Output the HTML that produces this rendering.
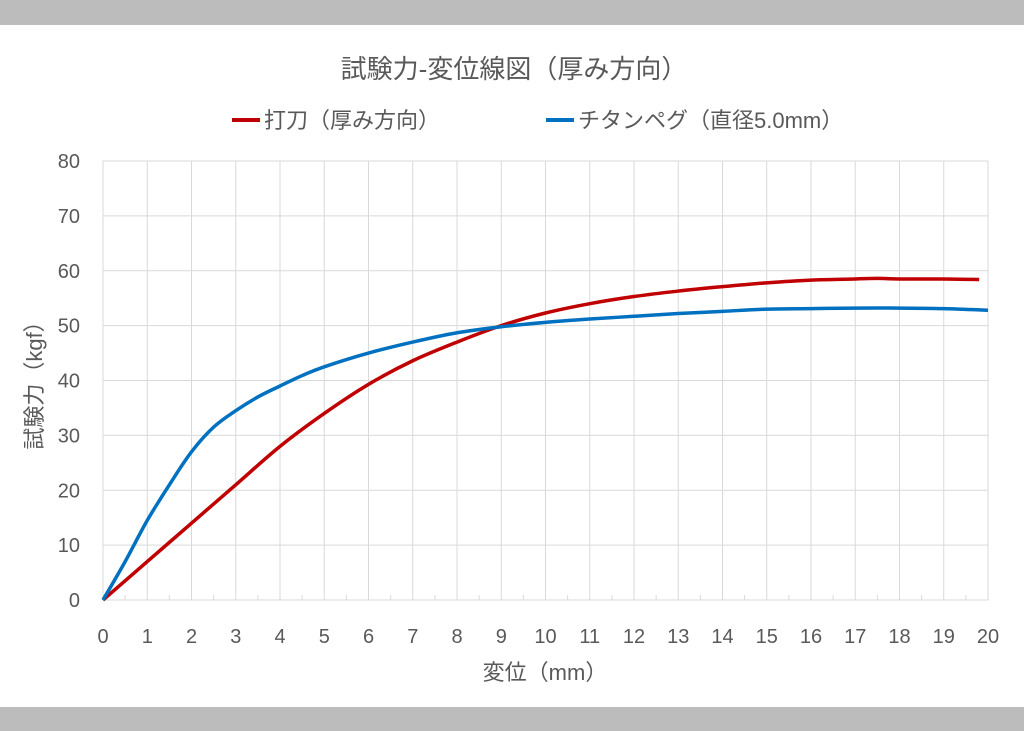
<!DOCTYPE html>
<html><head><meta charset="utf-8"><style>
body{margin:0;background:#fff;}
svg{display:block;font-family:"Liberation Sans","Noto Sans CJK JP",sans-serif;}
</style></head><body>
<svg id="c" width="1024" height="731" viewBox="0 0 1024 731">
<rect x="0" y="0" width="1024" height="25" fill="#bcbcbc"/>
<rect x="0" y="707" width="1024" height="24" fill="#bcbcbc"/>
<text x="514" y="78" text-anchor="middle" font-size="26" fill="#595959">試験力-変位線図（厚み方向）</text>
<g>
<g><line x1="232" y1="120" x2="260" y2="120" stroke="#c00000" stroke-width="4"/><text x="264" y="128" font-size="22" fill="#595959">打刀（厚み方向）</text></g>
<g><line x1="546" y1="120" x2="574" y2="120" stroke="#0070c0" stroke-width="4"/><text x="578" y="128" font-size="22" fill="#595959">チタンペグ（直径5.0mm）</text></g>
</g>
<g id="grid"></g><g id="axes"></g><g id="series"></g>
<text x="545" y="680" text-anchor="middle" font-size="22" fill="#595959">変位（mm）</text>
<text transform="translate(42,380) rotate(-90)" text-anchor="middle" font-size="22" fill="#595959">試験力（kgf）</text>
</svg>
<script>
const xTicks=[0,1,2,3,4,5,6,7,8,9,10,11,12,13,14,15,16,17,18,19,20];
const yTicks=[0,10,20,30,40,50,60,70,80];
const redX=[0,1,2,3,4,5,6,7,8,9,10,11,12,13,14,15,16,17,17.5,18,19,19.8];
const redY=[0,7,14,21,28,34,39.3,43.6,47,50,52.3,54,55.3,56.3,57.1,57.8,58.3,58.5,58.6,58.5,58.5,58.4];
const blueX=[0,0.5,1,1.5,2,2.5,3,3.5,4,4.5,5,6,7,8,9,10,11,12,13,14,15,16,17,18,19,20];
const blueY=[0,7,14.5,21,27,31.5,34.5,37,39,40.9,42.5,45,47,48.7,49.8,50.6,51.2,51.7,52.2,52.6,53,53.1,53.2,53.2,53.1,52.8];
const NS="http://www.w3.org/2000/svg";
const X0=103,X1=988,Y0=600,Y1=161;
const sx=v=>X0+(X1-X0)*v/20, sy=v=>Y0-(Y0-Y1)*v/80;
function mk(t,a,p){const e=document.createElementNS(NS,t);for(const k in a)e.setAttribute(k,a[k]);p.appendChild(e);return e;}
const grid=document.getElementById('grid'),axes=document.getElementById('axes'),ser=document.getElementById('series');
xTicks.forEach(v=>{
 const l=mk('line',{x1:sx(v),x2:sx(v),y1:Y1,y2:Y0,stroke:'#d9d9d9','stroke-width':1},grid);
 
 
 const t=mk('text',{x:sx(v),y:643,'text-anchor':'middle','font-size':20,fill:'#595959'},axes);t.textContent=v;
 
 
 if(v<20){const m=mk('line',{x1:sx(v+0.5),x2:sx(v+0.5),y1:Y0-5,y2:Y0,stroke:'#d9d9d9'},grid);
 
 }
});
yTicks.forEach(v=>{
 const l=mk('line',{x1:X0,x2:X1,y1:sy(v),y2:sy(v),stroke:'#d9d9d9','stroke-width':1},grid);
 
 
 const t=mk('text',{x:80,y:sy(v)+7,'text-anchor':'end','font-size':20,fill:'#595959'},axes);t.textContent=v;
 
 
});
function path(xs,ys){
 const P=xs.map((x,i)=>[sx(x),sy(ys[i])]);
 let d='M'+P[0][0]+','+P[0][1];
 for(let i=0;i<P.length-1;i++){
  const p0=P[Math.max(i-1,0)],p1=P[i],p2=P[i+1],p3=P[Math.min(i+2,P.length-1)];
  d+=' C'+(p1[0]+(p2[0]-p0[0])/6)+','+(p1[1]+(p2[1]-p0[1])/6)+' '+(p2[0]-(p3[0]-p1[0])/6)+','+(p2[1]-(p3[1]-p1[1])/6)+' '+p2[0]+','+p2[1];
 }
 return d;
}
const r=mk('path',{d:path(redX,redY),fill:'none',stroke:'#c00000','stroke-width':3.5,'stroke-linejoin':'round'},ser);


const b=mk('path',{d:path(blueX,blueY),fill:'none',stroke:'#0070c0','stroke-width':3.5,'stroke-linejoin':'round'},ser);


</script>
</body></html>
